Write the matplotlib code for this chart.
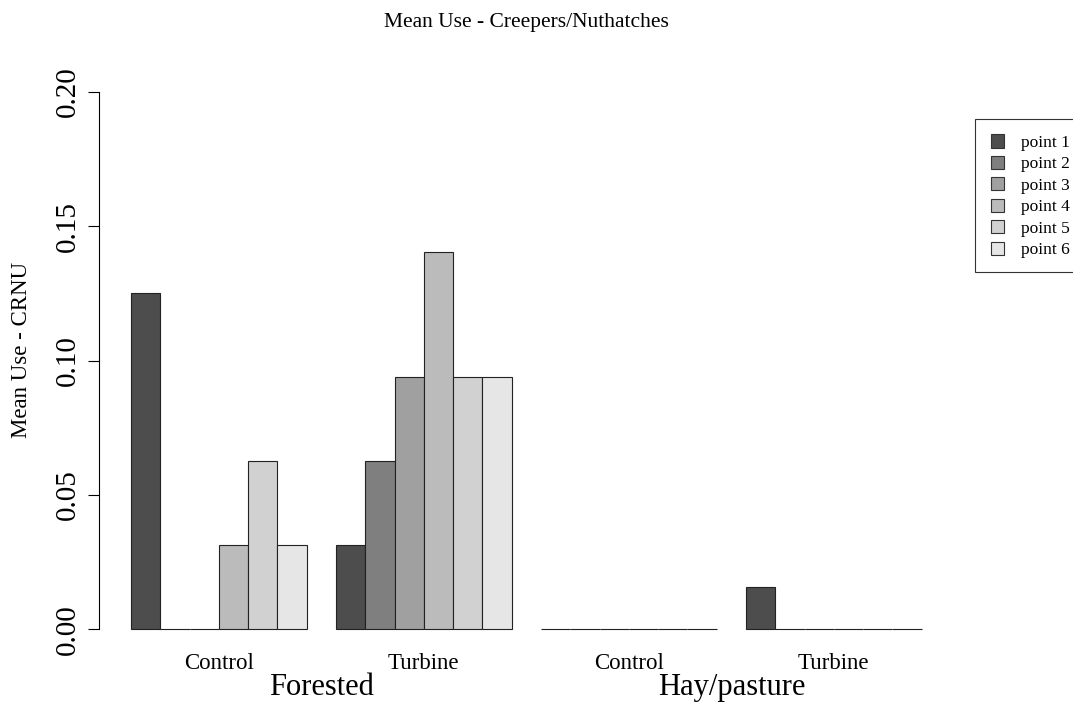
import numpy as np
import matplotlib
matplotlib.use("Agg")
from matplotlib import pyplot as plt
from matplotlib.patches import Rectangle
from matplotlib.transforms import blended_transform_factory

plt.rcParams["font.family"] = ["Liberation Serif", "DejaVu Serif"]

# mean use per survey point, one list per habitat/treatment group
points = ["point 1", "point 2", "point 3", "point 4", "point 5", "point 6"]
forested_control = [0.125, 0.0, 0.0, 0.03125, 0.0625, 0.03125]
forested_turbine = [0.03125, 0.0625, 0.09375, 0.140625, 0.09375, 0.09375]
hay_control = [0.0, 0.0, 0.0, 0.0, 0.0, 0.0]
hay_turbine = [0.015625, 0.0, 0.0, 0.0, 0.0, 0.0]
treatments = ["Control", "Turbine", "Control", "Turbine"]
habitats = ["Forested", "Hay/pasture"]

# gray.colors(6) from R
colors = ["#4D4D4D", "#7F7F7F", "#A0A0A0", "#BBBBBB", "#D1D1D1", "#E6E6E6"]

W, H = 1073, 706
fig = plt.figure(figsize=(W / 100, H / 100), dpi=100)
ax = fig.add_axes([99.4 / W, 1 - 650.8 / H, (953.3 - 99.4) / W, (650.8 - 70.5) / H])

groups = [forested_control, forested_turbine, hay_control, hay_turbine]
for g, vals in enumerate(groups):
    left = 1 + 7 * g + np.arange(len(vals))
    ax.bar(left, vals, width=1.0, align="edge", color=colors,
           edgecolor="#222222", linewidth=0.8)

ax.set_xlim(-0.08, 29.08)
ax.set_ylim(-0.008, 0.208)
for s in ["top", "right", "bottom"]:
    ax.spines[s].set_visible(False)
ax.spines["left"].set_bounds(0, 0.2)
ax.spines["left"].set_linewidth(0.8)
ax.set_xticks([])
ax.set_yticks([0, 0.05, 0.10, 0.15, 0.20])
ax.set_yticklabels(["0.00", "0.05", "0.10", "0.15", "0.20"], rotation=90,
                   va="center", fontsize=21)
ax.tick_params(axis="y", length=8, width=0.8, pad=5)

trans = blended_transform_factory(ax.transData, fig.transFigure)
for g, name in enumerate(treatments):
    ax.text(4 + 7 * g, 1 - 669 / H, name, transform=trans, ha="center",
            va="baseline", fontsize=16.5)
for h, name in enumerate(habitats):
    ax.text(7.5 + 14 * h, 1 - 695 / H, name, transform=trans, ha="center",
            va="baseline", fontsize=22)

fig.text(526 / W, 1 - 27 / H, "Mean Use - Creepers/Nuthatches", ha="center",
         va="baseline", fontsize=15.5)
fig.text(22 / W, 1 - 350 / H, "Mean Use - CRNU", ha="center", va="center",
         rotation=90, fontsize=16.5)

# legend box, drawn by hand in pixel units
fig.add_artist(Rectangle((974.7 / W, 1 - 272 / H), 120 / W, (272 - 119.3) / H,
                         transform=fig.transFigure, facecolor="white",
                         edgecolor="#333333", linewidth=0.8))
for i, (lab, c) in enumerate(zip(points, colors)):
    yc = 141 + 21.4 * i
    fig.add_artist(Rectangle((991 / W, 1 - (yc + 6.5) / H), 13 / W, 13 / H,
                             transform=fig.transFigure, facecolor=c,
                             edgecolor="#333333", linewidth=0.8))
    fig.text(1021 / W, 1 - yc / H, lab, ha="left", va="center_baseline",
             fontsize=12.5)

fig.savefig("out.png", dpi=100)
